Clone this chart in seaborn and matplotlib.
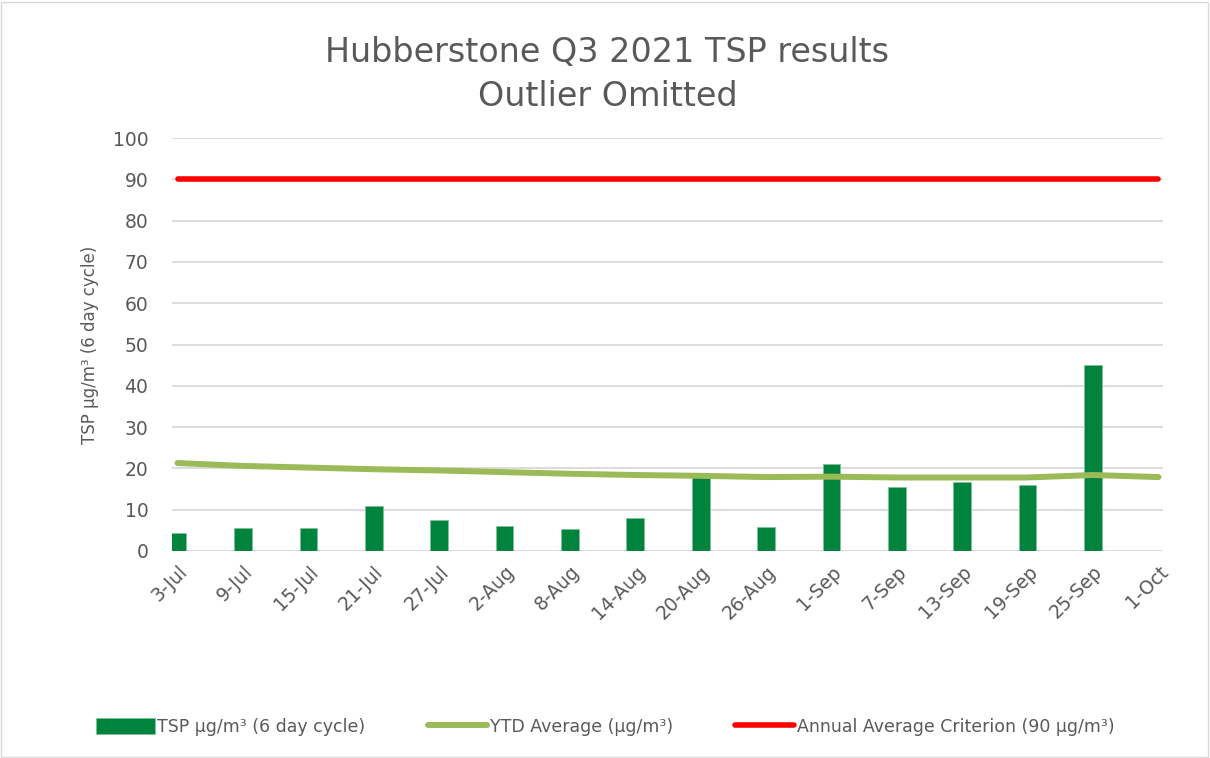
import numpy as np
import pandas as pd
import matplotlib
matplotlib.use("Agg")
import matplotlib.pyplot as plt
import seaborn as sns
from matplotlib.patches import Rectangle

dates = ["3-Jul", "9-Jul", "15-Jul", "21-Jul", "27-Jul", "2-Aug", "8-Aug", "14-Aug",
         "20-Aug", "26-Aug", "1-Sep", "7-Sep", "13-Sep", "19-Sep", "25-Sep", "1-Oct"]
tsp = [4.3, 5.5, 5.6, 11.0, 7.6, 6.0, 5.4, 8.0,
       18.3, 5.9, 21.1, 15.4, 16.8, 16.1, 45.1, np.nan]
ytd_avg = [21.3, 20.6, 20.2, 19.8, 19.5, 19.1, 18.7, 18.4,
           18.2, 17.9, 18.0, 17.8, 17.8, 17.8, 18.4, 17.9]
criterion = [90] * len(dates)

TEXT = "#595959"
GRID = "#d9d9d9"

df = pd.DataFrame({"date": dates, "tsp": tsp, "ytd": ytd_avg, "crit": criterion})

sns.set_theme(style="white")
plt.rcParams["font.family"] = ["DejaVu Sans"]

fig = plt.figure(figsize=(12.1, 7.58), dpi=100)
ax = fig.add_axes([172 / 1210, 1 - 551 / 758, (1163 - 172) / 1210, (551 - 138) / 758])

sns.barplot(data=df, x="date", y="tsp", order=dates, color="#00843d", saturation=1,
            width=0.27, edgecolor="#7fc39a", linewidth=0.6, errorbar=None,
            label="TSP µg/m³ (6 day cycle)", ax=ax, zorder=2)
sns.lineplot(data=df, x="date", y="ytd", sort=False, color="#9bbb59", linewidth=4.3,
             solid_capstyle="round", label="YTD Average (µg/m³)", ax=ax, zorder=3)
sns.lineplot(data=df, x="date", y="crit", sort=False, color="#ff0000", linewidth=4.0,
             solid_capstyle="round", label="Annual Average Criterion (90 µg/m³)", ax=ax, zorder=3)

ax.set_xlim(-0.085, len(dates) - 1 + 0.07)
ax.set_ylim(0, 100)
ax.set_yticks(range(0, 101, 10))
ax.yaxis.grid(True, color=GRID, linewidth=1.3, zorder=0)
ax.set_axisbelow(True)
for s in ax.spines.values():
    s.set_visible(False)
ax.tick_params(axis="both", length=0, colors=TEXT, labelsize=13.5)
ax.tick_params(axis="y", pad=17)
ax.tick_params(axis="x", pad=8)
plt.setp(ax.get_xticklabels(), rotation=45, ha="right", rotation_mode="anchor")
ax.set_xlabel("")
ax.set_ylabel("TSP µg/m³ (6 day cycle)", color=TEXT, fontsize=12, labelpad=10)

fig.text(0.502, 1 - 52 / 758, "Hubberstone Q3 2021 TSP results", ha="center", va="center",
         fontsize=24, color=TEXT)
fig.text(0.502, 1 - 97 / 758, "Outlier Omitted", ha="center", va="center",
         fontsize=24, color=TEXT)

# legend in the same order as the reference: bars, YTD line, criterion
handles, labels = ax.get_legend_handles_labels()
order = [labels.index("TSP µg/m³ (6 day cycle)"), labels.index("YTD Average (µg/m³)"),
         labels.index("Annual Average Criterion (90 µg/m³)")]
ax.get_legend().remove()
fig.legend([handles[i] for i in order], [labels[i] for i in order], loc="center",
           bbox_to_anchor=(0.5, 1 - 727 / 758), ncol=3, frameon=False, fontsize=12.5,
           labelcolor=TEXT, handlelength=3.4, handletextpad=0.15, columnspacing=3.6,
           handleheight=1.0)

fig.patches.append(Rectangle((0.001, 0.001), 0.997, 0.997, transform=fig.transFigure,
                             fill=False, edgecolor=GRID, linewidth=1))

fig.savefig("out.png", dpi=100)
